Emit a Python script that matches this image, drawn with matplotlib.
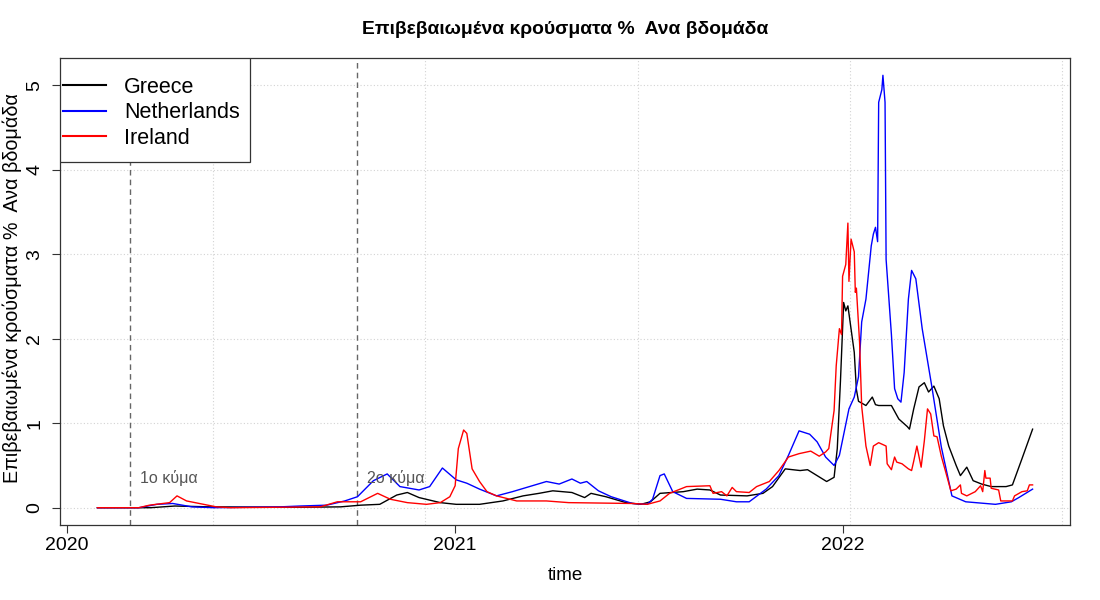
import matplotlib
matplotlib.use("Agg")
import matplotlib.pyplot as plt
import matplotlib.dates as mdates
from matplotlib.patches import Rectangle
import numpy as np
import pandas as pd

plt.rcParams['font.family'] = ['Liberation Sans', 'DejaVu Sans']

title = "Επιβεβαιωμένα κρούσματα %  Ανα βδομάδα"

## values (date, % per week)
greece_dates = ["2020-01-30", "2020-03-20", "2020-04-12", "2020-05-15", "2020-08-08", "2020-09-15",
                "2020-10-04", "2020-10-22", "2020-11-07", "2020-11-17", "2020-11-28", "2020-12-18",
                "2021-01-02", "2021-01-24", "2021-02-15", "2021-03-06", "2021-03-21", "2021-04-03",
                "2021-04-21", "2021-05-03", "2021-05-09", "2021-05-23", "2021-06-11", "2021-06-25",
                "2021-07-04", "2021-07-13", "2021-08-04", "2021-08-17", "2021-08-29", "2021-09-08",
                "2021-10-03", "2021-10-18", "2021-10-27", "2021-11-08", "2021-11-22", "2021-11-29",
                "2021-12-17", "2021-12-24", "2021-12-27", "2021-12-30", "2022-01-02", "2022-01-04",
                "2022-01-06", "2022-01-12", "2022-01-14", "2022-01-16", "2022-01-23", "2022-01-29",
                "2022-02-01", "2022-02-04", "2022-02-16", "2022-02-23", "2022-03-03", "2022-03-05",
                "2022-03-09", "2022-03-14", "2022-03-19", "2022-03-23", "2022-03-28", "2022-04-02",
                "2022-04-06", "2022-04-11", "2022-04-18", "2022-04-22", "2022-04-28", "2022-05-04",
                "2022-05-12", "2022-05-21", "2022-06-04", "2022-06-10", "2022-06-19", "2022-06-29"]
greece_vals = [0.0, 0.0, 0.02, 0.01, 0.005, 0.01,
               0.03, 0.04, 0.15, 0.18, 0.12, 0.06,
               0.04, 0.04, 0.08, 0.14, 0.17, 0.20,
               0.18, 0.12, 0.17, 0.13, 0.06, 0.04,
               0.07, 0.17, 0.19, 0.22, 0.21, 0.15,
               0.14, 0.17, 0.25, 0.46, 0.44, 0.45,
               0.31, 0.36, 0.70, 1.50, 2.43, 2.33,
               2.39, 1.84, 1.40, 1.26, 1.21, 1.31,
               1.22, 1.21, 1.21, 1.05, 0.96, 0.93,
               1.17, 1.43, 1.48, 1.37, 1.44, 1.29,
               0.97, 0.73, 0.50, 0.38, 0.48, 0.32,
               0.28, 0.25, 0.25, 0.27, 0.58, 0.93]

nl_dates = ["2020-01-30", "2020-03-09", "2020-03-26", "2020-04-10", "2020-04-28", "2020-05-19",
            "2020-07-20", "2020-08-08", "2020-09-02", "2020-09-19", "2020-10-01", "2020-10-16",
            "2020-10-29", "2020-11-10", "2020-11-28", "2020-12-08", "2020-12-20", "2021-01-02",
            "2021-01-12", "2021-01-24", "2021-02-09", "2021-02-24", "2021-03-12", "2021-03-28",
            "2021-04-09", "2021-04-21", "2021-04-29", "2021-05-05", "2021-05-16", "2021-05-28",
            "2021-06-17", "2021-07-01", "2021-07-06", "2021-07-13", "2021-07-17", "2021-07-25",
            "2021-08-07", "2021-09-08", "2021-09-23", "2021-10-05", "2021-10-21", "2021-11-02",
            "2021-11-11", "2021-11-21", "2021-12-01", "2021-12-08", "2021-12-16", "2021-12-24",
            "2021-12-29", "2022-01-07", "2022-01-12", "2022-01-16", "2022-01-19", "2022-01-23",
            "2022-01-28", "2022-01-30", "2022-02-01", "2022-02-03", "2022-02-04", "2022-02-07",
            "2022-02-08", "2022-02-10", "2022-02-11", "2022-02-16", "2022-02-19", "2022-02-22",
            "2022-02-25", "2022-02-28", "2022-03-04", "2022-03-07", "2022-03-11", "2022-03-17",
            "2022-03-26", "2022-04-04", "2022-04-14", "2022-04-27", "2022-05-25", "2022-06-09",
            "2022-06-16", "2022-06-29"]
nl_vals = [0.0, 0.0, 0.04, 0.05, 0.01, 0.0,
           0.01, 0.02, 0.03, 0.08, 0.13, 0.32,
           0.40, 0.25, 0.21, 0.25, 0.47, 0.33,
           0.29, 0.22, 0.14, 0.19, 0.25, 0.31,
           0.28, 0.34, 0.29, 0.31, 0.20, 0.13,
           0.05, 0.04, 0.10, 0.38, 0.40, 0.19,
           0.11, 0.10, 0.07, 0.07, 0.22, 0.38,
           0.62, 0.91, 0.87, 0.78, 0.60, 0.50,
           0.62, 1.17, 1.31, 1.55, 2.20, 2.47,
           3.10, 3.24, 3.32, 3.15, 4.80, 4.95,
           5.12, 4.80, 2.94, 2.05, 1.41, 1.29,
           1.25, 1.60, 2.47, 2.81, 2.71, 2.12,
           1.44, 0.72, 0.14, 0.07, 0.04, 0.07,
           0.12, 0.22]

ie_dates = ["2020-01-30", "2020-03-09", "2020-03-19", "2020-04-07", "2020-04-14", "2020-04-23",
            "2020-05-05", "2020-05-21", "2020-06-03", "2020-08-27", "2020-09-12", "2020-10-04",
            "2020-10-20", "2020-11-01", "2020-11-17", "2020-12-05", "2020-12-18", "2020-12-27",
            "2021-01-01", "2021-01-04", "2021-01-09", "2021-01-12", "2021-01-17", "2021-01-24",
            "2021-01-31", "2021-02-09", "2021-02-28", "2021-03-28", "2021-04-18", "2021-06-17",
            "2021-07-01", "2021-07-13", "2021-07-22", "2021-08-07", "2021-08-29", "2021-09-01",
            "2021-09-09", "2021-09-14", "2021-09-19", "2021-09-23", "2021-10-05", "2021-10-12",
            "2021-10-24", "2021-11-02", "2021-11-11", "2021-11-21", "2021-12-02", "2021-12-10",
            "2021-12-16", "2021-12-19", "2021-12-24", "2021-12-26", "2021-12-29", "2021-12-31",
            "2022-01-01", "2022-01-04", "2022-01-06", "2022-01-07", "2022-01-09", "2022-01-12",
            "2022-01-13", "2022-01-14", "2022-01-17", "2022-01-19", "2022-01-23", "2022-01-27",
            "2022-01-30", "2022-02-04", "2022-02-11", "2022-02-12", "2022-02-16", "2022-02-19",
            "2022-02-21", "2022-02-26", "2022-03-04", "2022-03-07", "2022-03-09", "2022-03-12",
            "2022-03-16", "2022-03-19", "2022-03-22", "2022-03-25", "2022-03-28", "2022-03-31",
            "2022-04-04", "2022-04-08", "2022-04-13", "2022-04-18", "2022-04-22", "2022-04-23",
            "2022-04-28", "2022-05-06", "2022-05-11", "2022-05-13", "2022-05-15", "2022-05-16",
            "2022-05-20", "2022-05-21", "2022-05-28", "2022-05-30", "2022-06-10", "2022-06-12",
            "2022-06-19", "2022-06-24", "2022-06-26", "2022-06-29"]
ie_vals = [0.0, 0.0, 0.03, 0.06, 0.14, 0.08,
           0.05, 0.01, 0.0, 0.01, 0.07, 0.07,
           0.17, 0.10, 0.06, 0.04, 0.06, 0.13,
           0.26, 0.70, 0.92, 0.88, 0.46, 0.31,
           0.19, 0.14, 0.08, 0.08, 0.06, 0.05,
           0.04, 0.08, 0.17, 0.25, 0.26, 0.17,
           0.19, 0.14, 0.24, 0.19, 0.18, 0.25,
           0.31, 0.44, 0.60, 0.64, 0.67, 0.61,
           0.66, 0.70, 1.15, 1.68, 2.12, 2.05,
           2.74, 2.88, 3.37, 2.68, 3.18, 3.03,
           2.55, 2.60, 1.96, 1.20, 0.73, 0.50,
           0.73, 0.77, 0.73, 0.52, 0.45, 0.60,
           0.54, 0.52, 0.46, 0.44, 0.55, 0.73,
           0.48, 0.79, 1.17, 1.11, 0.85, 0.84,
           0.61, 0.43, 0.20, 0.22, 0.27, 0.17,
           0.14, 0.19, 0.26, 0.19, 0.44, 0.35,
           0.35, 0.23, 0.21, 0.08, 0.08, 0.14,
           0.19, 0.20, 0.27, 0.27]

countries = ["Greece", "Netherlands", "Ireland"]
colors = ["black", "blue", "red"]

wave_dates = ["2020-03-01", "2020-10-01"]
wave_labels = ["1ο κύμα", "2ο κύμα"]

series = [(greece_dates, greece_vals), (nl_dates, nl_vals), (ie_dates, ie_vals)]

fig = plt.figure(figsize=(11, 6), dpi=100)
ax = fig.add_axes([60/1100, 75/600, 1010/1100, 467/600])

for (d, v), name, c in zip(series, countries, colors):
    ax.plot(pd.to_datetime(d), v, color=c, lw=1.0, label=name, zorder=3)

ax.margins(x=0.04, y=0.04)

## grid like R's grid(): dotted light gray
for g in np.arange(18400, 19201, 200):
    ax.axvline(g, color="#d3d3d3", lw=0.8, ls=(0, (1, 2)), zorder=1)
for g in range(6):
    ax.axhline(g, color="#d3d3d3", lw=0.8, ls=(0, (1, 2)), zorder=1)

## waves
for wd, wl in zip(wave_dates, wave_labels):
    t = pd.Timestamp(wd)
    ax.axvline(t, color="#666666", lw=1.0, ls=(0, (4, 3)), zorder=2)
    ax.text(t + pd.Timedelta(days=36), 0.35, wl, color="#555555", fontsize=11.5,
            ha="center", va="center", zorder=4)

ax.set_yticks(range(6))
ax.set_yticklabels([str(i) for i in range(6)], rotation=90, va="center")
years = pd.to_datetime(["2020-01-01", "2021-01-01", "2022-01-01"])
ax.set_xticks(years)
ax.set_xticklabels(["2020", "2021", "2022"])
ax.tick_params(axis="both", labelsize=14, length=6, width=0.8, color="#333333", direction="out")
ax.tick_params(axis="y", pad=6)
ax.tick_params(axis="x", pad=3)
for s in ax.spines.values():
    s.set_color("#333333")
    s.set_linewidth(0.9)

## legend box in the corner like R's legend("topleft")
ax.add_patch(Rectangle((0, 1 - 104/467), 190/1010, 104/467, transform=ax.transAxes,
                       facecolor="white", edgecolor="#333333", lw=0.9, zorder=5))
leg = ax.legend(loc="upper left", bbox_to_anchor=(3/1010, 1 - 19/467), frameon=False,
                fontsize=15.5, handlelength=2.0, handletextpad=0.85, labelspacing=0.2,
                borderaxespad=0, borderpad=0)
leg.set_zorder(6)
for l in leg.get_lines():
    l.set_linewidth(1.5)

fig.text(565/1100, 1 - 30/600, title, fontsize=13.9, fontweight="bold", ha="center", va="center")
fig.text(12/1100, 1 - 288/600, title, fontsize=14.2, rotation=90, ha="center", va="center")
fig.text(565/1100, 1 - 575/600, "time", fontsize=13.5, ha="center", va="center")

plt.savefig("out.png", dpi=100)
